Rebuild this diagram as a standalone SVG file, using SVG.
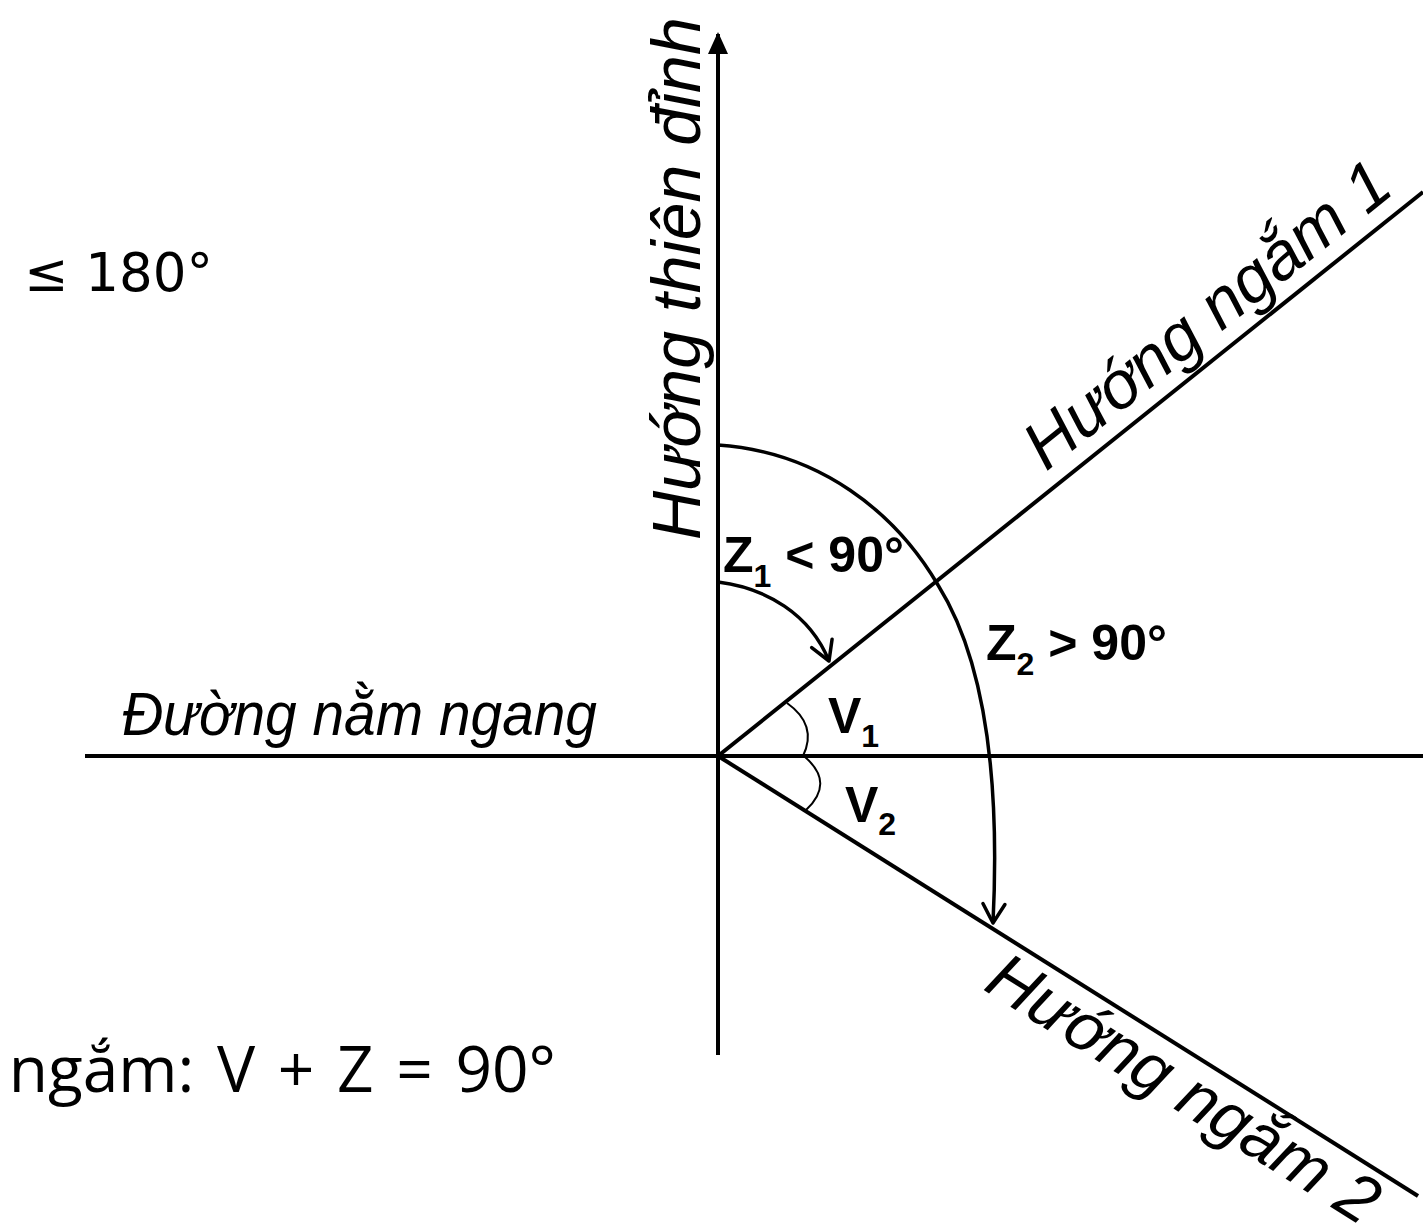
<svg xmlns="http://www.w3.org/2000/svg" width="1423" height="1232" viewBox="0 0 1423 1232">
<style>
.ax{stroke:#000;stroke-width:4;fill:none}
.arc{stroke:#000;stroke-width:3.5;fill:none}
.varc{stroke:#000;stroke-width:2;fill:none}
.it{font-family:"Liberation Sans",Arial,sans-serif;font-style:italic;fill:#000}
.bd{font-family:"Liberation Sans",Arial,sans-serif;font-weight:bold;font-size:50px;fill:#000}
.sub{font-size:32px}
</style>
<defs>
<marker id="open" markerUnits="userSpaceOnUse" viewBox="-3 -3 28 28" markerWidth="28" markerHeight="28" refX="20" refY="11" orient="auto">
<path d="M1,0 L20,11 L1,22" fill="none" stroke="#000" stroke-width="3.5" stroke-linejoin="round" stroke-linecap="round"/>
</marker>
<marker id="solid" markerUnits="userSpaceOnUse" viewBox="0 0 22 20" markerWidth="22" markerHeight="20" refX="20" refY="10" orient="auto">
<path d="M0,0 L22,10 L0,20 Z" fill="#000"/>
</marker>
</defs>
<g id="connectors">
<line id="horizontal" class="ax" x1="85" y1="756" x2="1423" y2="756"/>
<line id="zenith-axis" class="ax" x1="718" y1="1055" x2="718" y2="34" marker-end="url(#solid)"/>
<line id="ray1" class="ax" x1="718" y1="756" x2="1423" y2="192"/>
<line id="ray2" class="ax" x1="718" y1="756" x2="1418" y2="1196"/>
<path id="z1-arc" class="arc" d="M718,582 C766,588 810,614 829,661" marker-end="url(#open)"/>
<path id="z2-arc" class="arc" d="M718,445 C820,452 895,512 938,585 C985,660 1000,780 993,923" marker-end="url(#open)"/>
<path id="v1-arc" class="varc" d="M787,703 Q818,725 803,756"/>
<path id="v2-arc" class="varc" d="M805,757 Q835,783 806,810"/>
</g>
<g id="label-zenith">
<text class="it" font-size="68" transform="translate(700,540) rotate(-90)">Hướng thiên đỉnh</text>
</g>
<g id="label-horizontal">
<text class="it" font-size="62" x="122" y="735" textLength="475" lengthAdjust="spacingAndGlyphs">Đường nằm ngang</text>
</g>
<g id="label-ray1">
<text class="it" font-size="67" transform="translate(1046,472) rotate(-38.66)">Hướng ngắm 1</text>
</g>
<g id="label-ray2">
<text class="it" font-size="67" transform="translate(982,989) rotate(32)">Hướng ngắm 2</text>
</g>
<g id="label-z1">
<text class="bd" x="723" y="572">Z<tspan class="sub" dy="15">1</tspan><tspan dy="-15"> &lt; 90°</tspan></text>
</g>
<g id="label-z2">
<text class="bd" x="986" y="660">Z<tspan class="sub" dy="15">2</tspan><tspan dy="-15"> &gt; 90°</tspan></text>
</g>
<g id="label-v1">
<text class="bd" x="828" y="733">V<tspan class="sub" dy="14">1</tspan></text>
</g>
<g id="label-v2">
<text class="bd" x="845" y="822">V<tspan class="sub" dy="13">2</tspan></text>
</g>
<g id="note-top">
<text font-family="'DejaVu Sans',Verdana,sans-serif" font-size="53" x="24" y="291">≤ 180°</text>
</g>
<g id="note-bottom">
<text font-family="'Open Sans','Noto Sans',sans-serif" font-size="64" word-spacing="6" text-anchor="end" x="556" y="1092">ngắm: V + Z = 90°</text>
</g>
</svg>
